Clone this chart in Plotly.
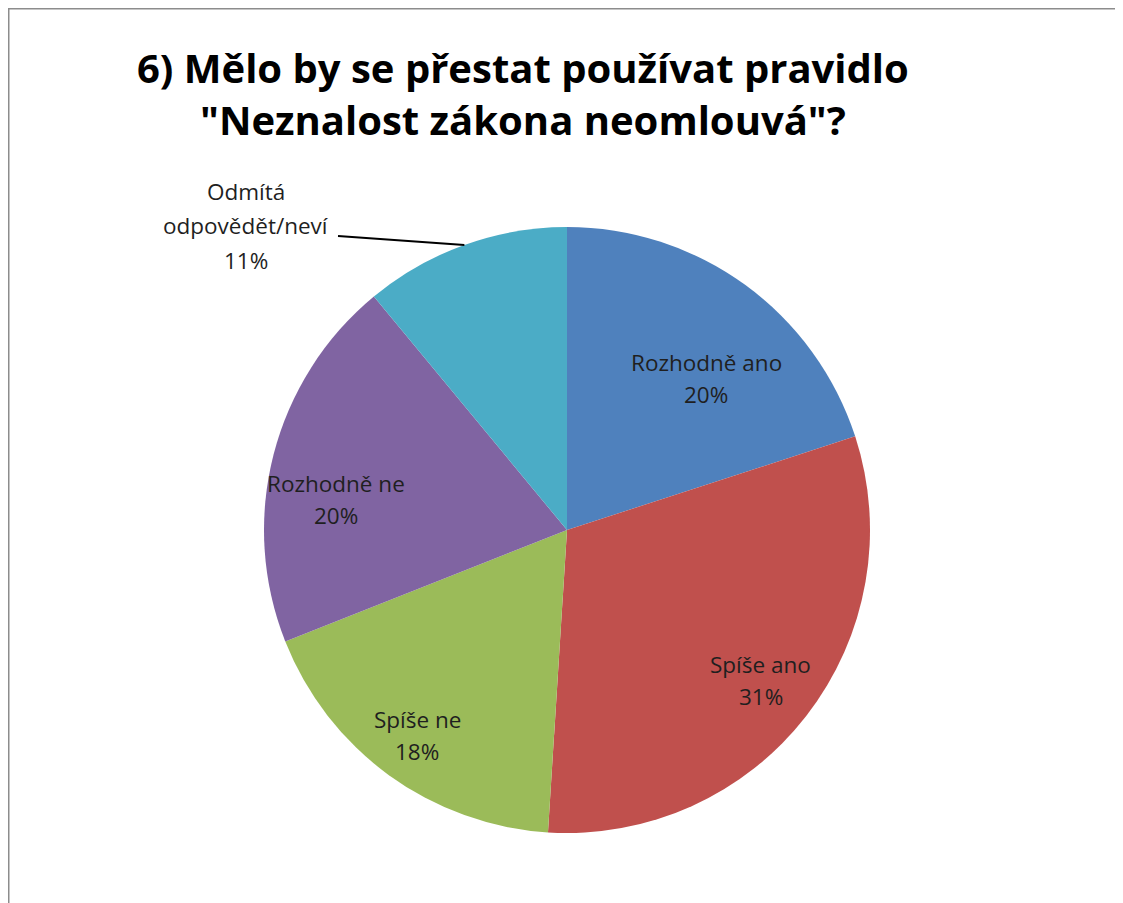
import math

import plotly.graph_objects as go

# data
answers = ["Rozhodně ano", "Spíše ano", "Spíše ne", "Rozhodně ne", "Odmítá odpovědět/neví"]
shares = [20, 31, 18, 20, 11]
colors = ["#4F81BD", "#C0504D", "#9BBB59", "#8064A2", "#4BACC6"]
title_lines = ["6) Mělo by se přestat používat pravidlo", "\"Neznalost zákona neomlouvá\"?"]

W, H = 1123, 903
OFF = 8  # page body margin, figure starts 8px in
CX, CY, R = 567 - OFF, 530 - OFF, 303  # pie centre / radius in figure pixels (top-left origin)

# label placement inside slices: radial fraction of R and a small angular nudge (deg)
label_r = [0.68, 0.81, 0.84, 0.77]
label_nudge = [6.6, 0.0, 0.0, -7.0]

font_family = "Open Sans, Liberation Sans, sans-serif"
text_color = "#1f1f1f"
label_size = 22.5
line_gap = 16


def px_x(x):
    return x / W


def px_y(y):
    return 1 - y / H


fig = go.Figure(
    go.Pie(
        labels=answers,
        values=shares,
        sort=False,
        direction="clockwise",
        rotation=0,
        marker={"colors": colors, "line": {"width": 0}},
        textinfo="none",
        hoverinfo="label+percent",
        showlegend=False,
        domain={"x": [px_x(CX - R), px_x(CX + R)], "y": [px_y(CY + R), px_y(CY - R)]},
    )
)

total = sum(shares)
cum = 0
for i, (name, val) in enumerate(zip(answers, shares)):
    mid = 2 * math.pi * (cum + val / 2) / total
    cum += val
    if i < len(label_r):
        ang = mid + math.radians(label_nudge[i])
        tx = CX + label_r[i] * R * math.sin(ang)
        ty = CY - label_r[i] * R * math.cos(ang)
        for text, dy in ((name, -line_gap), (f"{round(100 * val / total)}%", line_gap)):
            fig.add_annotation(
                xref="paper", yref="paper", x=px_x(tx), y=px_y(ty + dy),
                xanchor="center", yanchor="middle", text=text, showarrow=False,
                font={"family": font_family, "size": label_size, "color": text_color},
            )
    else:
        # outside label with a leader line to the rim at the slice's mid angle
        edge_x = CX + R * math.sin(mid)
        edge_y = CY - R * math.cos(mid)
        lx, ly = 338 - OFF, 236 - OFF
        fig.add_shape(
            type="line", xref="paper", yref="paper",
            x0=px_x(lx), y0=px_y(ly), x1=px_x(edge_x), y1=px_y(edge_y),
            line={"color": "#000000", "width": 2},
        )
        parts = ["Odmítá", "odpovědět/neví", f"{round(100 * val / total)}%"]
        for j, text in enumerate(parts):
            fig.add_annotation(
                xref="paper", yref="paper", x=px_x(246 - OFF), y=px_y(192 - OFF + 34 * j),
                xanchor="center", yanchor="middle", text=text, showarrow=False,
                font={"family": font_family, "size": label_size, "color": text_color},
            )

for j, line in enumerate(title_lines):
    fig.add_annotation(
        xref="paper", yref="paper", x=px_x(523 - OFF), y=px_y(67 - OFF + 52 * j),
        xanchor="center", yanchor="middle", text=f"<b>{line}</b>", showarrow=False,
        font={"family": font_family, "size": 40, "color": "#000000"},
    )

# chart frame
frame = "#8c8c8c"
fig.add_shape(type="line", xref="paper", yref="paper", x0=0, x1=1, y0=1, y1=1,
              line={"color": frame, "width": 3})
fig.add_shape(type="line", xref="paper", yref="paper", x0=0, x1=0, y0=0, y1=1,
              line={"color": frame, "width": 3})
fig.add_shape(type="line", xref="paper", yref="paper", x0=px_x(1117 - OFF), x1=px_x(1117 - OFF),
              y0=0, y1=1, line={"color": "#ececec", "width": 1})

fig.update_layout(
    width=W,
    height=H,
    margin={"l": 0, "r": 0, "t": 0, "b": 0},
    paper_bgcolor="#ffffff",
    plot_bgcolor="#ffffff",
    font={"family": font_family},
)

fig.write_html("out.html")
